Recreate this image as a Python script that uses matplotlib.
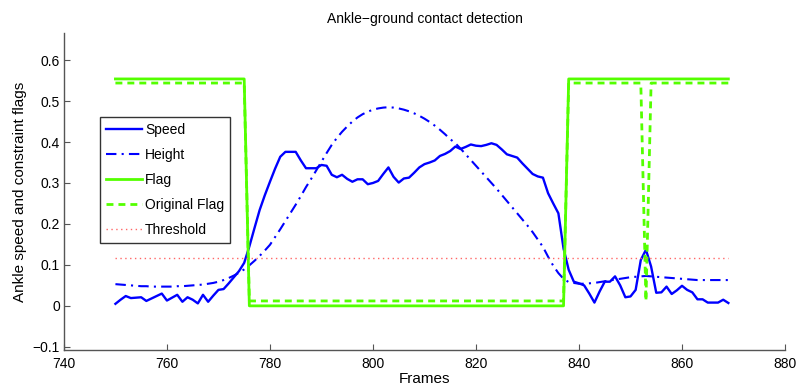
import numpy as np
import matplotlib
matplotlib.use("Agg")
import matplotlib.pyplot as plt

plt.rcParams['font.family'] = ['Liberation Sans', 'DejaVu Sans']

# frames 750..869, one value per frame
frames = np.arange(750, 870)

speed = [
    0.005, 0.015, 0.024, 0.019, 0.020, 0.021, 0.012, 0.018, 0.024, 0.030,
    0.013, 0.020, 0.027, 0.010, 0.021, 0.015, 0.006, 0.027, 0.010, 0.025,
    0.039, 0.041, 0.055, 0.070, 0.085, 0.105, 0.145, 0.190, 0.234, 0.270,
    0.303, 0.335, 0.364, 0.376, 0.376, 0.376, 0.355, 0.336, 0.336, 0.336,
    0.344, 0.342, 0.320, 0.314, 0.320, 0.310, 0.303, 0.309, 0.309, 0.297,
    0.300, 0.305, 0.322, 0.338, 0.315, 0.301, 0.311, 0.313, 0.325, 0.338,
    0.346, 0.350, 0.355, 0.366, 0.371, 0.378, 0.389, 0.383, 0.388, 0.394,
    0.391, 0.390, 0.393, 0.397, 0.393, 0.382, 0.370, 0.366, 0.362, 0.348,
    0.335, 0.322, 0.316, 0.313, 0.275, 0.250, 0.226, 0.140, 0.088, 0.059,
    0.055, 0.050, 0.030, 0.008, 0.035, 0.059, 0.059, 0.072, 0.050, 0.021,
    0.023, 0.039, 0.112, 0.137, 0.096, 0.032, 0.033, 0.047, 0.029, 0.038,
    0.049, 0.039, 0.033, 0.016, 0.016, 0.008, 0.008, 0.008, 0.015, 0.007,
]

height = [
    0.053, 0.052, 0.051, 0.050, 0.049, 0.048, 0.048, 0.047, 0.047, 0.047,
    0.047, 0.047, 0.048, 0.048, 0.049, 0.050, 0.051, 0.052, 0.054, 0.056,
    0.059, 0.063, 0.068, 0.074, 0.081, 0.089, 0.099, 0.110, 0.122, 0.135,
    0.149, 0.168, 0.187, 0.207, 0.227, 0.247, 0.268, 0.290, 0.310, 0.331,
    0.352, 0.373, 0.393, 0.410, 0.425, 0.438, 0.450, 0.460, 0.468, 0.474,
    0.479, 0.482, 0.484, 0.485, 0.484, 0.482, 0.479, 0.475, 0.470, 0.464,
    0.457, 0.449, 0.440, 0.430, 0.419, 0.407, 0.397, 0.384, 0.370, 0.356,
    0.342, 0.328, 0.314, 0.300, 0.286, 0.271, 0.256, 0.241, 0.226, 0.211,
    0.196, 0.180, 0.162, 0.144, 0.120, 0.098, 0.080, 0.066, 0.058, 0.056,
    0.054, 0.054, 0.055, 0.056, 0.058, 0.060, 0.062, 0.064, 0.066, 0.068,
    0.070, 0.071, 0.072, 0.073, 0.072, 0.071, 0.070, 0.069, 0.068, 0.067,
    0.066, 0.065, 0.064, 0.063, 0.063, 0.063, 0.063, 0.063, 0.063, 0.063,
]

# step flags given at their breakpoints
flag_frames = [750, 775, 776, 837, 838, 869]
flag_values = [0.554, 0.554, 0.0, 0.0, 0.554, 0.554]

orig_frames = [750, 775, 776, 837, 838, 852, 853, 854, 869]
orig_values = [0.544, 0.544, 0.012, 0.012, 0.544, 0.544, 0.012, 0.544, 0.544]

thresh_frames = [750, 869]
thresh_values = [0.117, 0.117]

blue = (0, 0, 1)
green = (0.33, 1, 0)

fig = plt.figure(figsize=(7.99, 3.89), dpi=100)
ax = fig.add_axes([0.080, 0.100, 0.9025, 0.815])

ax.plot(frames, speed, color=blue, lw=1.7, label='Speed')
ax.plot(frames, height, color=blue, lw=1.5, ls=(0, (5, 2.5, 1, 2.5)), label='Height')
ax.plot(flag_frames, flag_values, color=green, lw=2.0, label='Flag')
ax.plot(orig_frames, orig_values, color=green, lw=2.0, ls=(0, (2.5, 1.8)),
        label='Original Flag')
ax.plot(thresh_frames, thresh_values, color=(1, 0.4, 0.4), lw=1.0, ls=(0, (1, 2.5)),
        label='Threshold')

ax.set_xlim(740, 880)
ax.set_ylim(-0.108, 0.666)
ax.set_xticks(np.arange(740, 881, 20))
ax.set_yticks([-0.1, 0, 0.1, 0.2, 0.3, 0.4, 0.5, 0.6])
ax.set_yticklabels(['\u22120.1', '0', '0.1', '0.2', '0.3', '0.4', '0.5', '0.6'])

for s in ['top', 'right']:
    ax.spines[s].set_visible(False)
for s in ['left', 'bottom']:
    ax.spines[s].set_color('#555555')
    ax.spines[s].set_linewidth(1.0)
ax.tick_params(direction='in', length=4, color='#555555', labelsize=10)
ax.tick_params(axis='x', pad=5)
ax.tick_params(axis='y', pad=3)

ax.set_title('Ankle\u2212ground contact detection', fontsize=10, pad=7)
ax.set_xlabel('Frames', fontsize=11, labelpad=1)
ax.set_ylabel('Ankle speed and constraint flags', fontsize=11, labelpad=4)

leg = ax.legend(loc='upper left', bbox_to_anchor=(0.05, 0.735), fontsize=10,
                frameon=True, fancybox=False, handlelength=2.6,
                borderpad=0.45, labelspacing=0.78, handletextpad=0.2,
                borderaxespad=0)
leg.get_frame().set_edgecolor('black')
leg.get_frame().set_linewidth(1.0)

fig.savefig('out.png', dpi=100)
